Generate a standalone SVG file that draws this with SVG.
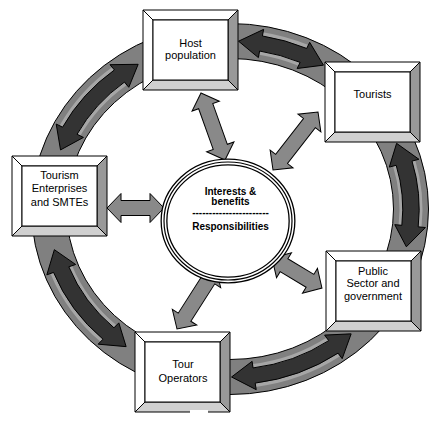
<svg xmlns="http://www.w3.org/2000/svg" xmlns:xlink="http://www.w3.org/1999/xlink" width="447" height="430" viewBox="0 0 447 430">
<style>
.lbl{font-family:"Liberation Sans",Arial,sans-serif;font-size:11px;fill:#000;text-anchor:middle}
.ctr{font-family:"Liberation Sans",Arial,sans-serif;font-size:10px;font-weight:bold;fill:#000;text-anchor:middle}
.ra{fill:#333;stroke:#000;stroke-width:1;stroke-linejoin:miter;vector-effect:non-scaling-stroke}
.strip{fill:none;stroke:#a6a6a6;stroke-width:23;vector-effect:non-scaling-stroke}
.sa{fill:#898989;stroke:#000;stroke-width:1}
.bv{stroke:#000;stroke-width:1;stroke-linejoin:miter}
</style>
<defs>
<g id="bevel">
<polygon class="bv" points="0,0 95,0 85,10 10,10" fill="#fff"/>
<polygon class="bv" points="0,0 10,10 10,70 0,80" fill="#fff"/>
<polygon class="bv" points="95,0 95,80 85,70 85,10" fill="#999"/>
<polygon class="bv" points="0,80 95,80 85,70 10,70" fill="#d0d0d0"/>
<rect class="bv" x="10" y="10" width="75" height="60" fill="#fff"/>
</g>
</defs>
<g id="connectors">
<ellipse cx="230" cy="209" rx="198.5" ry="185.5" fill="#808080" stroke="#000" stroke-width="1"/>
<ellipse cx="230" cy="209" rx="163.5" ry="150.5" fill="#fff" stroke="#000" stroke-width="1"/>
<g id="ring-arrows" transform="translate(230,209) scale(1.0284,0.9545)">
<path class="strip" d="M30.2,-173.4 A176,176 0 0 1 71.4,-160.9"/>
<path class="strip" d="M169.3,-48 A176,176 0 0 1 175.1,17.9"/>
<path class="strip" d="M100.5,144.5 A176,176 0 0 1 23.5,174.4"/>
<path class="strip" d="M-118.1,130.5 A176,176 0 0 1 -164.1,63.5"/>
<path class="strip" d="M-155.7,-82 A176,176 0 0 1 -107.5,-139.3"/>
<path class="ra" d="M8.3,-175.8 L32.7,-188.2 L31.5,-181.3 A184,184 0 0 1 74.6,-168.2 L77.5,-174.6 L90.9,-150.7 L65.3,-147.2 L68.2,-153.6 A168,168 0 0 0 28.8,-165.5 L27.6,-158.6 Z"/>
<path class="ra" d="M162,-68.8 L183.7,-52.1 L177,-50.2 A184,184 0 0 1 183,18.7 L190,19.4 L171.5,39.6 L160.2,16.4 L167.1,17.1 A168,168 0 0 0 161.6,-45.8 L154.9,-43.9 Z"/>
<path class="ra" d="M117.8,130.8 L109.1,156.8 L105.1,151 A184,184 0 0 1 24.5,182.4 L25.5,189.3 L1.5,176 L21.5,159.6 L22.4,166.5 A168,168 0 0 0 96,137.9 L92,132.1 Z"/>
<path class="ra" d="M-101,144.2 L-128.2,141.6 L-123.5,136.4 A184,184 0 0 1 -171.6,66.4 L-178.1,69 L-170.8,42.6 L-150.1,58.1 L-156.7,60.6 A168,168 0 0 0 -112.8,124.5 L-108.1,119.3 Z"/>
<path class="ra" d="M-164.8,-61.9 L-169,-89 L-162.8,-85.7 A184,184 0 0 1 -112.4,-145.7 L-116.7,-151.2 L-89.3,-151.6 L-98.4,-127.5 L-102.6,-133 A168,168 0 0 0 -148.7,-78.3 L-142.5,-75 Z"/>
</g>
<path class="sa" transform="translate(201,93) rotate(70.3)" d="M0,0 L14,-14.5 L14,-7.5 L57.2,-7.5 L57.2,-14.5 L71.2,0 L57.2,14.5 L57.2,7.5 L14,7.5 L14,14.5 Z"/>
<path class="sa" transform="translate(318,112) rotate(127.8)" d="M0,0 L14,-14.5 L14,-7.5 L59.4,-7.5 L59.4,-14.5 L73.4,0 L59.4,14.5 L59.4,7.5 L14,7.5 L14,14.5 Z"/>
<path class="sa" transform="translate(107,208)" d="M0,0 L14,-14.5 L14,-7.5 L43,-7.5 L43,-14.5 L57,0 L43,14.5 L43,7.5 L14,7.5 L14,14.5 Z"/>
<path class="sa" transform="translate(272,258) rotate(31)" d="M0,0 L14,-14.5 L14,-7.5 L44.3,-7.5 L44.3,-14.5 L58.3,0 L44.3,14.5 L44.3,7.5 L14,7.5 L14,14.5 Z"/>
<path class="sa" transform="translate(177,329) rotate(-57.4)" d="M0,0 L14,-14.5 L14,-7.5 L58.4,-7.5 L58.4,-14.5 L72.4,0 L58.4,14.5 L58.4,7.5 L14,7.5 L14,14.5 Z"/>
</g>
<g id="center">
<ellipse cx="228" cy="221" rx="64" ry="59" fill="#fff" stroke="#000" stroke-width="7"/>
<ellipse cx="228" cy="221" rx="64" ry="59" fill="none" stroke="#fff" stroke-width="4.4"/>
<ellipse cx="228" cy="221" rx="64" ry="59" fill="none" stroke="#000" stroke-width="1.2"/>
<text class="ctr" x="230.5" y="194.5">Interests &amp;</text>
<text class="ctr" x="230.5" y="205">benefits</text>
<text class="ctr" x="230.5" y="216">-----------------------</text>
<text class="ctr" x="230.5" y="229.5">Responsibilities</text>
</g>
<g id="host">
<use xlink:href="#bevel" transform="translate(143,10)"/>
<text class="lbl" x="190.5" y="46.5">Host</text>
<text class="lbl" x="190.5" y="59">population</text>
</g>
<g id="tourists">
<use xlink:href="#bevel" transform="translate(325,62)"/>
<text class="lbl" x="372.5" y="98">Tourists</text>
</g>
<g id="enterprises">
<use xlink:href="#bevel" transform="translate(12,156)"/>
<text class="lbl" x="59.5" y="179">Tourism</text>
<text class="lbl" x="59.5" y="192">Enterprises</text>
<text class="lbl" x="59.5" y="205.5">and SMTEs</text>
</g>
<g id="public">
<use xlink:href="#bevel" transform="translate(326,251)"/>
<text class="lbl" x="373" y="274.5">Public</text>
<text class="lbl" x="373" y="287">Sector and</text>
<text class="lbl" x="373" y="300">government</text>
</g>
<g id="operators">
<use xlink:href="#bevel" transform="translate(135,332)"/>
<text class="lbl" x="183" y="368">Tour</text>
<text class="lbl" x="183" y="381.5">Operators</text>
<rect x="190" y="410" width="18" height="4" fill="#fff"/>
</g>
</svg>
